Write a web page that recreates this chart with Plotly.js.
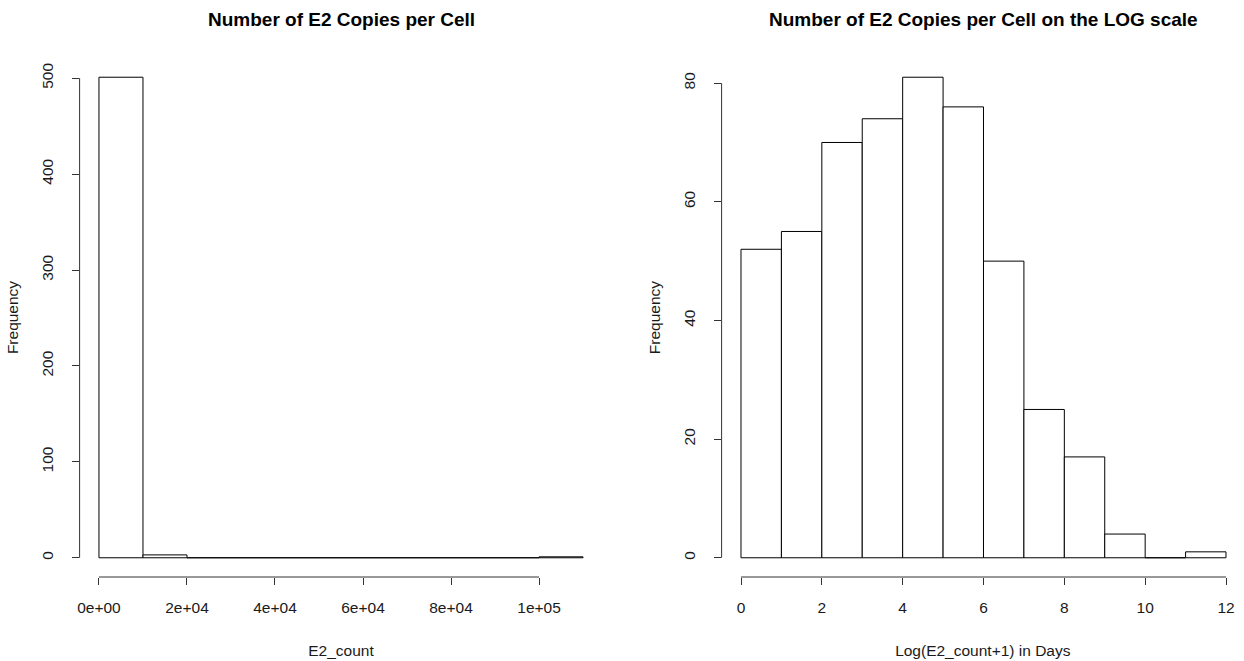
<!DOCTYPE html>
<html>
<head>
<meta charset="utf-8">
<script src="https://cdn.plot.ly/plotly-3.0.1.min.js"></script>
<style>html,body{margin:0;padding:0;background:#fff;}#chart{width:1244px;height:661px;}</style>
</head>
<body>
<div id="chart"></div>
<script>
// Left histogram: raw E2 counts
var rawBinEdges = [0, 10000, 20000, 30000, 40000, 50000, 60000, 70000, 80000, 90000, 100000, 110000];
var rawCounts = [501, 3, 0, 0, 0, 0, 0, 0, 0, 0, 1];
var rawXTickVals = [0, 20000, 40000, 60000, 80000, 100000];
var rawXTickText = ["0e+00", "2e+04", "4e+04", "6e+04", "8e+04", "1e+05"];
var rawYTickVals = [0, 100, 200, 300, 400, 500];

// Right histogram: log(E2_count + 1)
var logBinEdges = [0, 1, 2, 3, 4, 5, 6, 7, 8, 9, 10, 11, 12];
var logCounts = [52, 55, 70, 74, 81, 76, 50, 25, 17, 4, 0, 1];
var logXTickVals = [0, 2, 4, 6, 8, 10, 12];
var logYTickVals = [0, 20, 40, 60, 80];

var titleLeft = "Number of E2 Copies per Cell";
var titleRight = "Number of E2 Copies per Cell on the LOG scale";
var xTitleLeft = "E2_count";
var xTitleRight = "Log(E2_count+1) in Days";
var yTitle = "Frequency";

function centers(edges) { var c = []; for (var i = 0; i < edges.length - 1; i++) c.push((edges[i] + edges[i + 1]) / 2); return c; }
function widths(edges) { var w = []; for (var i = 0; i < edges.length - 1; i++) w.push(edges[i + 1] - edges[i]); return w; }
function padRange(lo, hi) { var d = (hi - lo) * 0.04; return [lo - d, hi + d]; }

var W = 1244, H = 661;
var yDom = [(H - 577) / H, (H - 58) / H];
var xDom1 = [79.6 / W, 602.4 / W];
var xDom2 = [721.6 / W, 1.0];

var barStyle = { color: "#ffffff", line: { color: "#000000", width: 1 } };

var traces = [
  { type: "bar", x: centers(rawBinEdges), y: rawCounts, width: widths(rawBinEdges), marker: barStyle, xaxis: "x", yaxis: "y", hoverinfo: "x+y" },
  { type: "bar", x: centers(logBinEdges), y: logCounts, width: widths(logBinEdges), marker: barStyle, xaxis: "x2", yaxis: "y2", hoverinfo: "x+y" }
];

var font = { family: "Liberation Sans, Arial, sans-serif", size: 15.5, color: "#1a1a1a" };
var tickCommon = { ticks: "outside", ticklen: 7, tickwidth: 1, tickcolor: "#333", showgrid: false, zeroline: false, showline: false, automargin: false, tickfont: font };

var xr1 = padRange(rawBinEdges[0], rawBinEdges[rawBinEdges.length - 1]);
var yr1 = padRange(0, Math.max.apply(null, rawCounts));
var xr2 = padRange(logBinEdges[0], logBinEdges[logBinEdges.length - 1]);
var yr2 = padRange(0, Math.max.apply(null, logCounts));
// right panel is clipped at page edge
xr2[1] = logBinEdges[0] + (W - 741) / ((1226 - 741) / 12);

var titleFont = { family: font.family, size: 19, color: "#000" };

var layout = {
  width: W, height: H,
  margin: { l: 0, r: 0, t: 0, b: 0, pad: 0 },
  paper_bgcolor: "#fff", plot_bgcolor: "#fff",
  showlegend: false, bargap: 0,
  font: font,
  xaxis: Object.assign({}, tickCommon, { domain: xDom1, range: xr1, tickmode: "array", tickvals: rawXTickVals, ticktext: rawXTickText, anchor: "y", ticklabelstandoff: 9,
    title: { text: xTitleLeft, font: font, standoff: 30 } }),
  yaxis: Object.assign({}, tickCommon, { domain: yDom, range: yr1, tickmode: "array", tickvals: rawYTickVals, tickangle: -90, anchor: "x", ticklabelstandoff: 12,
    title: { text: yTitle, font: font, standoff: 16 } }),
  xaxis2: Object.assign({}, tickCommon, { domain: xDom2, range: xr2, tickmode: "array", tickvals: logXTickVals, anchor: "y2", ticklabelstandoff: 9,
    title: { text: xTitleRight, font: font, standoff: 30 } }),
  yaxis2: Object.assign({}, tickCommon, { domain: yDom, range: yr2, tickmode: "array", tickvals: logYTickVals, tickangle: -90, anchor: "x2", ticklabelstandoff: 12,
    title: { text: yTitle, font: font, standoff: 16 } }),
  annotations: [
    { text: "<b>" + titleLeft + "</b>", xref: "paper", yref: "paper", x: (xDom1[0] + xDom1[1]) / 2, y: 1 - 20 / H, xanchor: "center", yanchor: "middle", showarrow: false, font: titleFont },
    { text: "<b>" + titleRight + "</b>", xref: "paper", yref: "paper", x: (xDom2[0] + 1245 / W) / 2, y: 1 - 20 / H, xanchor: "center", yanchor: "middle", showarrow: false, font: titleFont }
  ],
  shapes: [
    { type: "line", xref: "x", yref: "paper", x0: rawXTickVals[0], x1: rawXTickVals[rawXTickVals.length - 1], y0: yDom[0], y1: yDom[0], line: { color: "#333", width: 1 } },
    { type: "line", xref: "paper", yref: "y", x0: xDom1[0], x1: xDom1[0], y0: rawYTickVals[0], y1: rawYTickVals[rawYTickVals.length - 1], line: { color: "#333", width: 1 } },
    { type: "line", xref: "x2", yref: "paper", x0: logXTickVals[0], x1: logXTickVals[logXTickVals.length - 1], y0: yDom[0], y1: yDom[0], line: { color: "#333", width: 1 } },
    { type: "line", xref: "paper", yref: "y2", x0: xDom2[0], x1: xDom2[0], y0: logYTickVals[0], y1: logYTickVals[logYTickVals.length - 1], line: { color: "#333", width: 1 } }
  ]
};

Plotly.newPlot("chart", traces, layout, { displayModeBar: false, staticPlot: true });
</script>
</body>
</html>
